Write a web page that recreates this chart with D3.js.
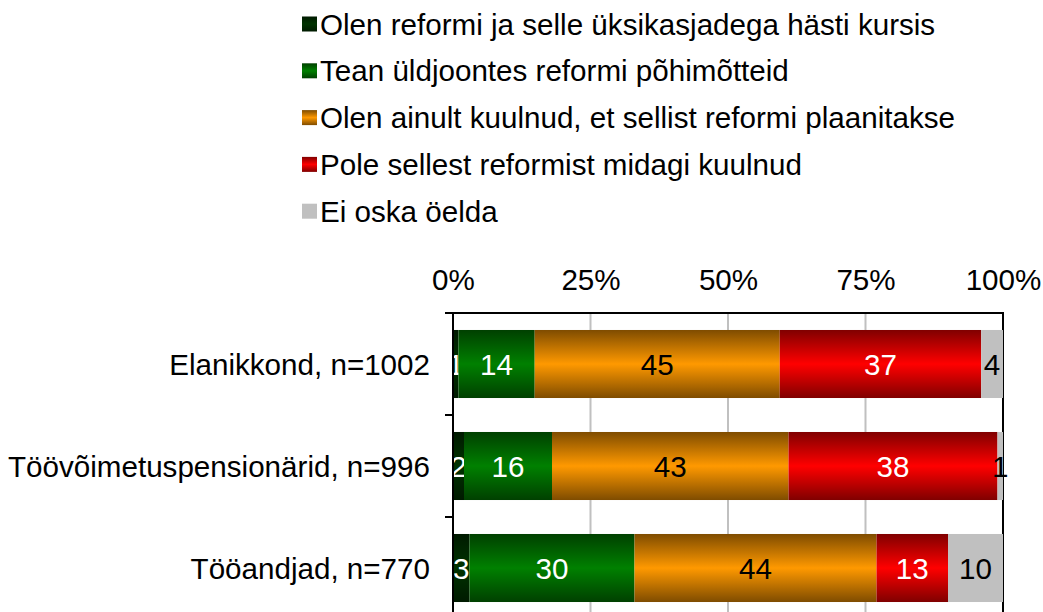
<!DOCTYPE html>
<html><head><meta charset="utf-8">
<script src="https://cdn.jsdelivr.net/npm/d3@7"></script>
<style>body{margin:0;background:#fff}svg{display:block}text{font-family:"Liberation Sans",Arial,sans-serif;}</style>
</head><body>
<script>
const categories = ["Elanikkond, n=1002", "Töövõimetuspensionärid, n=996", "Tööandjad, n=770"];
const seriesNames = [
  "Olen reformi ja selle üksikasjadega hästi kursis",
  "Tean üldjoontes reformi põhimõtteid",
  "Olen ainult kuulnud, et sellist reformi plaanitakse",
  "Pole sellest reformist midagi kuulnud",
  "Ei oska öelda"
];
const s1 = [1, 2, 3];
const s2 = [14, 16, 30];
const s3 = [45, 43, 44];
const s4 = [37, 38, 13];
const s5 = [4, 1, 10];
const tickValues = [0, 0.25, 0.5, 0.75, 1];
const tickLabels = ["0%", "25%", "50%", "75%", "100%"];

const edgeColors = ["#001a00", "#004000", "#7f4c00", "#800000", "#c0c0c0"];
const centerColors = ["#003300", "#008000", "#ff9900", "#ff0000", "#c0c0c0"];
const labelColors = ["#fff", "#fff", "#000", "#fff", "#000"];

const W = 1043, H = 612, FS = 29.6;
const svg = d3.select("body").append("svg").attr("width", W).attr("height", H);
const defs = svg.append("defs");
centerColors.forEach((c, i) => {
  const g = defs.append("linearGradient").attr("id", "g" + i)
    .attr("x1", 0).attr("y1", 0).attr("x2", 0).attr("y2", 1);
  g.append("stop").attr("offset", "0%").attr("stop-color", edgeColors[i]);
  g.append("stop").attr("offset", "50%").attr("stop-color", c);
  g.append("stop").attr("offset", "100%").attr("stop-color", edgeColors[i]);
});

const rows = categories.map((c, i) => ({cat: c, k0: s1[i], k1: s2[i], k2: s3[i], k3: s4[i], k4: s5[i]}));
const keys = ["k0", "k1", "k2", "k3", "k4"];
const stacked = d3.stack().keys(keys).offset(d3.stackOffsetExpand)(rows);

const x = d3.scaleLinear().domain([0, 1]).range([453, 1003]);
const y = d3.scaleBand().domain(categories).range([313, 619]).paddingInner(0.333).paddingOuter(0.1665);

// gridlines
svg.append("g").selectAll("line").data([0.25, 0.5, 0.75]).join("line")
  .attr("x1", d => x(d)).attr("x2", d => x(d)).attr("y1", 313).attr("y2", H)
  .attr("stroke", "#c0c0c0").attr("stroke-width", 2);
svg.append("line").attr("x1", x(1)).attr("x2", x(1)).attr("y1", 313).attr("y2", H)
  .attr("stroke", "#000").attr("stroke-width", 2);

// bars
stacked.forEach((layer, si) => {
  const g = svg.append("g");
  g.selectAll("rect").data(layer).join("rect")
    .attr("x", d => x(d[0])).attr("width", d => x(d[1]) - x(d[0]))
    .attr("y", d => y(d.data.cat)).attr("height", y.bandwidth())
    .attr("fill", `url(#g${si})`);
  g.selectAll("text").data(layer).join("text")
    .attr("x", d => (x(d[0]) + x(d[1])) / 2)
    .attr("y", d => y(d.data.cat) + y.bandwidth() / 2 + FS * 0.358)
    .attr("text-anchor", "middle").attr("font-size", FS)
    .attr("fill", labelColors[si])
    .text(d => d.data[keys[si]]);
});

// top axis
const xAxis = d3.axisTop(x).tickValues(tickValues).tickFormat((d, i) => tickLabels[i]).tickSize(0).tickPadding(0);
const ax = svg.append("g").attr("transform", "translate(0,313)").call(xAxis);
ax.select(".domain").remove();
ax.selectAll("text").attr("font-size", FS).attr("fill", "#000").attr("dy", 0).attr("y", -23)
  .style("font-family", '"Liberation Sans",Arial,sans-serif');
svg.append("line").attr("x1", 445).attr("x2", x(1) + 1).attr("y1", 313).attr("y2", 313)
  .attr("stroke", "#000").attr("stroke-width", 2);

// left axis
svg.append("line").attr("x1", 453).attr("x2", 453).attr("y1", 312).attr("y2", H)
  .attr("stroke", "#000").attr("stroke-width", 2);
svg.append("g").selectAll("line").data(categories.slice(1)).join("line")
  .attr("x1", 445).attr("x2", 453)
  .attr("y1", d => y(d) - y.step() * y.paddingInner() / 2)
  .attr("y2", d => y(d) - y.step() * y.paddingInner() / 2)
  .attr("stroke", "#000").attr("stroke-width", 2);
svg.append("g").selectAll("text").data(categories).join("text")
  .attr("x", 430).attr("y", d => y(d) + y.bandwidth() / 2 + FS * 0.358)
  .attr("text-anchor", "end").attr("font-size", FS).attr("fill", "#000").text(d => d);

// legend
const leg = svg.append("g");
seriesNames.forEach((n, i) => {
  const cy = 24 + i * 46.8;
  leg.append("rect").attr("x", 302).attr("y", cy - 7.5).attr("width", 15).attr("height", 15)
    .attr("fill", `url(#g${i})`);
  leg.append("text").attr("x", 320).attr("y", cy + FS * 0.358).attr("font-size", FS)
    .attr("fill", "#000").text(n);
});
</script>
</body></html>
